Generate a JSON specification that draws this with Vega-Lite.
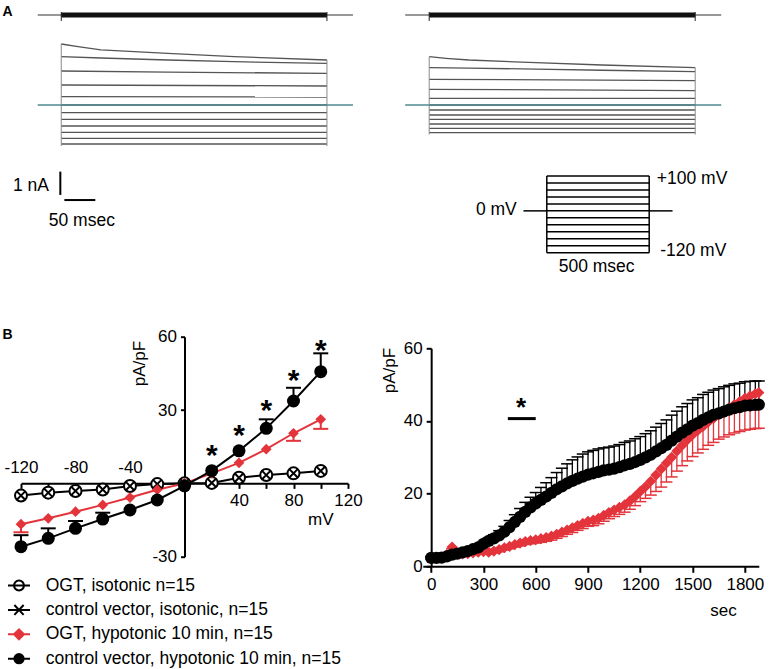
{
"$schema": "https://vega.github.io/schema/vega-lite/v6.json",
"padding": {"left": 2, "top": 0, "right": 0, "bottom": 0},
"spacing": 16.8,
"config": {
  "font": "Liberation Sans",
  "view": {"stroke": null},
  "axis": {"domainColor": "#000", "domainWidth": 2, "tickColor": "#000", "tickWidth": 2, "labelColor": "#000", "labelFontSize": 17, "titleFontSize": 17, "titleFontWeight": "normal", "titleColor": "#000", "grid": false}
},
"datasets": {
  "trL": [
    {"v":100,"x":0,"y":2.618},{"v":100,"x":27,"y":2.504},{"v":100,"x":64,"y":2.361},{"v":100,"x":172,"y":2.219},{"v":100,"x":279,"y":2.073},{"v":100,"x":429,"y":1.931},
    {"v":80,"x":0,"y":2.073},{"v":80,"x":64,"y":2.017},{"v":80,"x":172,"y":1.931},{"v":80,"x":279,"y":1.858},{"v":80,"x":429,"y":1.79},
    {"v":60,"x":0,"y":1.459},{"v":60,"x":172,"y":1.41},{"v":60,"x":429,"y":1.36},
    {"v":40,"x":0,"y":0.858},{"v":40,"x":429,"y":0.815},
    {"v":20,"x":0,"y":0.356},{"v":20,"x":429,"y":0.343},
    {"v":0,"x":0,"y":0},{"v":0,"x":429,"y":0},
    {"v":-20,"x":0,"y":-0.33},{"v":-20,"x":429,"y":-0.33},
    {"v":-40,"x":0,"y":-0.614},{"v":-40,"x":429,"y":-0.614},
    {"v":-60,"x":0,"y":-0.901},{"v":-60,"x":429,"y":-0.901},
    {"v":-80,"x":0,"y":-1.172},{"v":-80,"x":429,"y":-1.172},
    {"v":-100,"x":0,"y":-1.429},{"v":-100,"x":429,"y":-1.429},
    {"v":-120,"x":0,"y":-1.674},{"v":-120,"x":429,"y":-1.674}
  ],
  "trR": [
    {"v":100,"x":0,"y":2.073},{"v":100,"x":27,"y":2.004},{"v":100,"x":64,"y":1.931},{"v":100,"x":172,"y":1.815},{"v":100,"x":279,"y":1.717},{"v":100,"x":429.5,"y":1.601},
    {"v":80,"x":0,"y":1.601},{"v":80,"x":64,"y":1.58},{"v":80,"x":172,"y":1.54},{"v":80,"x":279,"y":1.49},{"v":80,"x":429.5,"y":1.429},
    {"v":60,"x":0,"y":1.103},{"v":60,"x":429.5,"y":1.043},
    {"v":40,"x":0,"y":0.674},{"v":40,"x":429.5,"y":0.614},
    {"v":20,"x":0,"y":0.288},{"v":20,"x":429.5,"y":0.288},
    {"v":0,"x":0,"y":0},{"v":0,"x":429.5,"y":0},
    {"v":-20,"x":0,"y":-0.215},{"v":-20,"x":429.5,"y":-0.215},
    {"v":-40,"x":0,"y":-0.429},{"v":-40,"x":429.5,"y":-0.429},
    {"v":-60,"x":0,"y":-0.614},{"v":-60,"x":429.5,"y":-0.614},
    {"v":-80,"x":0,"y":-0.815},{"v":-80,"x":429.5,"y":-0.815},
    {"v":-100,"x":0,"y":-1.0},{"v":-100,"x":429.5,"y":-1.0},
    {"v":-120,"x":0,"y":-1.189},{"v":-120,"x":429.5,"y":-1.189}
  ],
  "iv": [
    {"k":"oi","mv":-120,"val":-5.0,"cap":-5.0},{"k":"oi","mv":-100,"val":-3.8,"cap":-3.8},{"k":"oi","mv":-80,"val":-3.1,"cap":-3.1},{"k":"oi","mv":-60,"val":-2.5,"cap":-2.5},{"k":"oi","mv":-40,"val":-1.1,"cap":-1.1},{"k":"oi","mv":-20,"val":-0.3,"cap":-0.3},{"k":"oi","mv":0,"val":0,"cap":0},{"k":"oi","mv":20,"val":0.2,"cap":0.2},{"k":"oi","mv":40,"val":2.3,"cap":2.3},{"k":"oi","mv":60,"val":3.4,"cap":3.4},{"k":"oi","mv":80,"val":4.1,"cap":4.1},{"k":"oi","mv":100,"val":5.1,"cap":5.1},
    {"k":"ci","mv":-120,"val":-5.0,"cap":-5.0},{"k":"ci","mv":-100,"val":-3.8,"cap":-3.8},{"k":"ci","mv":-80,"val":-3.1,"cap":-3.1},{"k":"ci","mv":-60,"val":-2.5,"cap":-2.5},{"k":"ci","mv":-40,"val":-1.1,"cap":-1.1},{"k":"ci","mv":-20,"val":-0.3,"cap":-0.3},{"k":"ci","mv":0,"val":0,"cap":0},{"k":"ci","mv":20,"val":0.2,"cap":0.2},{"k":"ci","mv":40,"val":2.3,"cap":2.3},{"k":"ci","mv":60,"val":3.4,"cap":3.4},{"k":"ci","mv":80,"val":4.1,"cap":4.1},{"k":"ci","mv":100,"val":5.1,"cap":5.1},
    {"k":"oh","mv":-120,"val":-16.7,"cap":-20.0},{"k":"oh","mv":-100,"val":-14.3,"cap":-14.3},{"k":"oh","mv":-80,"val":-11.6,"cap":-11.6},{"k":"oh","mv":-60,"val":-8.8,"cap":-8.8},{"k":"oh","mv":-40,"val":-5.8,"cap":-5.8},{"k":"oh","mv":-20,"val":-2.6,"cap":-2.6},{"k":"oh","mv":0,"val":0,"cap":0},{"k":"oh","mv":20,"val":4.1,"cap":4.1},{"k":"oh","mv":40,"val":8.4,"cap":8.4},{"k":"oh","mv":60,"val":14.0,"cap":14.0},{"k":"oh","mv":80,"val":20.5,"cap":17.4},{"k":"oh","mv":100,"val":26.2,"cap":22.3},
    {"k":"ch","mv":-120,"val":-25.9,"cap":-21.2},{"k":"ch","mv":-100,"val":-22.5,"cap":-18.4},{"k":"ch","mv":-80,"val":-18.4,"cap":-15.4},{"k":"ch","mv":-60,"val":-14.6,"cap":-12.0},{"k":"ch","mv":-40,"val":-10.9,"cap":-10.9},{"k":"ch","mv":-20,"val":-6.8,"cap":-6.8},{"k":"ch","mv":0,"val":-1.0,"cap":-1.0},{"k":"ch","mv":20,"val":5.2,"cap":5.2},{"k":"ch","mv":40,"val":13.3,"cap":13.3},{"k":"ch","mv":60,"val":22.5,"cap":26.2},{"k":"ch","mv":80,"val":33.7,"cap":39.1},{"k":"ch","mv":100,"val":45.7,"cap":53.2}
  ],
  "tc": [
    {"s":"c","t":0,"v":2.3,"e":2.6},{"s":"c","t":30,"v":2.3,"e":2.6},{"s":"c","t":60,"v":2.4,"e":2.7},{"s":"c","t":90,"v":2.7,"e":3.0},{"s":"c","t":120,"v":3.2,"e":3.6},{"s":"c","t":150,"v":3.5,"e":3.9},{"s":"c","t":180,"v":3.8,"e":4.2},{"s":"c","t":210,"v":4.2,"e":4.7},{"s":"c","t":240,"v":4.7,"e":5.2},{"s":"c","t":270,"v":5.2,"e":5.7},
    {"s":"c","t":300,"v":6.2,"e":6.8},{"s":"c","t":330,"v":7.0,"e":7.8},{"s":"c","t":360,"v":7.7,"e":8.7},{"s":"c","t":390,"v":8.5,"e":9.8},{"s":"c","t":420,"v":9.5,"e":11.0},{"s":"c","t":450,"v":10.8,"e":12.6},{"s":"c","t":480,"v":12.2,"e":14.2},{"s":"c","t":510,"v":13.6,"e":15.9},{"s":"c","t":540,"v":15.0,"e":17.6},{"s":"c","t":570,"v":16.2,"e":19.0},
    {"s":"c","t":600,"v":17.3,"e":20.3},{"s":"c","t":630,"v":18.3,"e":21.7},{"s":"c","t":660,"v":19.2,"e":23.0},{"s":"c","t":690,"v":20.2,"e":24.4},{"s":"c","t":720,"v":21.2,"e":25.8},{"s":"c","t":750,"v":22.0,"e":27.0},{"s":"c","t":780,"v":22.8,"e":28.2},{"s":"c","t":810,"v":23.5,"e":29.3},{"s":"c","t":840,"v":24.1,"e":30.1},{"s":"c","t":870,"v":24.7,"e":30.9},
    {"s":"c","t":900,"v":25.2,"e":31.5},{"s":"c","t":930,"v":25.6,"e":31.9},{"s":"c","t":960,"v":26.0,"e":32.3},{"s":"c","t":990,"v":26.4,"e":32.6},{"s":"c","t":1020,"v":26.6,"e":32.8},{"s":"c","t":1050,"v":26.9,"e":33.1},{"s":"c","t":1080,"v":27.3,"e":33.5},{"s":"c","t":1110,"v":27.8,"e":34.1},{"s":"c","t":1140,"v":28.2,"e":34.5},{"s":"c","t":1170,"v":28.7,"e":35.1},
    {"s":"c","t":1200,"v":29.3,"e":35.7},{"s":"c","t":1230,"v":30.0,"e":36.5},{"s":"c","t":1260,"v":30.7,"e":37.3},{"s":"c","t":1290,"v":31.6,"e":38.3},{"s":"c","t":1320,"v":32.5,"e":39.3},{"s":"c","t":1350,"v":33.4,"e":40.3},{"s":"c","t":1380,"v":34.6,"e":41.6},{"s":"c","t":1410,"v":35.7,"e":42.7},{"s":"c","t":1440,"v":36.8,"e":43.9},{"s":"c","t":1470,"v":37.7,"e":44.8},
    {"s":"c","t":1500,"v":38.7,"e":45.8},{"s":"c","t":1530,"v":39.4,"e":46.4},{"s":"c","t":1560,"v":40.3,"e":47.3},{"s":"c","t":1590,"v":41.0,"e":47.9},{"s":"c","t":1620,"v":41.7,"e":48.5},{"s":"c","t":1650,"v":42.1,"e":48.9},{"s":"c","t":1680,"v":42.6,"e":49.4},{"s":"c","t":1710,"v":43.1,"e":49.8},{"s":"c","t":1740,"v":43.5,"e":50.2},{"s":"c","t":1770,"v":43.8,"e":50.4},
    {"s":"c","t":1800,"v":44.2,"e":50.8},{"s":"c","t":1830,"v":44.3,"e":50.9},{"s":"c","t":1860,"v":44.4,"e":51.0},{"s":"c","t":1880,"v":44.5,"e":51.0},
    {"s":"o","t":0,"v":2.3,"e":2.0},{"s":"o","t":30,"v":2.3,"e":2.0},{"s":"o","t":60,"v":2.5,"e":2.2},{"s":"o","t":90,"v":3.2,"e":2.8},{"s":"o","t":120,"v":5.3,"e":4.8},{"s":"o","t":150,"v":3.6,"e":3.2},{"s":"o","t":180,"v":3.4,"e":3.0},{"s":"o","t":210,"v":3.5,"e":3.1},{"s":"o","t":240,"v":3.7,"e":3.3},{"s":"o","t":270,"v":3.9,"e":3.5},
    {"s":"o","t":300,"v":4.0,"e":3.5},{"s":"o","t":330,"v":3.9,"e":3.4},{"s":"o","t":360,"v":4.2,"e":3.7},{"s":"o","t":390,"v":4.6,"e":4.0},{"s":"o","t":420,"v":5.1,"e":4.5},{"s":"o","t":450,"v":5.5,"e":4.8},{"s":"o","t":480,"v":6.0,"e":5.3},{"s":"o","t":510,"v":6.4,"e":5.6},{"s":"o","t":540,"v":6.8,"e":6.0},{"s":"o","t":570,"v":7.1,"e":6.2},
    {"s":"o","t":600,"v":7.3,"e":6.4},{"s":"o","t":630,"v":7.6,"e":6.6},{"s":"o","t":660,"v":7.9,"e":6.9},{"s":"o","t":690,"v":8.3,"e":7.2},{"s":"o","t":720,"v":8.8,"e":7.7},{"s":"o","t":750,"v":9.4,"e":8.2},{"s":"o","t":780,"v":10.0,"e":8.8},{"s":"o","t":810,"v":10.6,"e":9.3},{"s":"o","t":840,"v":11.2,"e":9.9},{"s":"o","t":870,"v":11.8,"e":10.4},
    {"s":"o","t":900,"v":12.4,"e":11.0},{"s":"o","t":930,"v":12.7,"e":11.2},{"s":"o","t":960,"v":13.2,"e":11.7},{"s":"o","t":990,"v":14.0,"e":12.4},{"s":"o","t":1020,"v":14.8,"e":13.1},{"s":"o","t":1050,"v":15.5,"e":13.7},{"s":"o","t":1080,"v":16.2,"e":14.3},{"s":"o","t":1110,"v":16.9,"e":14.9},{"s":"o","t":1140,"v":18.0,"e":15.7},{"s":"o","t":1170,"v":19.2,"e":16.7},
    {"s":"o","t":1200,"v":20.6,"e":17.8},{"s":"o","t":1230,"v":21.9,"e":18.7},{"s":"o","t":1260,"v":23.4,"e":19.6},{"s":"o","t":1290,"v":25.1,"e":20.6},{"s":"o","t":1320,"v":26.8,"e":21.8},{"s":"o","t":1350,"v":28.4,"e":23.2},{"s":"o","t":1380,"v":30.0,"e":24.6},{"s":"o","t":1410,"v":31.7,"e":26.2},{"s":"o","t":1440,"v":33.3,"e":27.7},{"s":"o","t":1470,"v":34.8,"e":29.0},
    {"s":"o","t":1500,"v":36.2,"e":30.2},{"s":"o","t":1530,"v":37.4,"e":31.2},{"s":"o","t":1560,"v":38.5,"e":32.2},{"s":"o","t":1590,"v":39.7,"e":33.3},{"s":"o","t":1620,"v":40.7,"e":34.1},{"s":"o","t":1650,"v":41.8,"e":35.0},{"s":"o","t":1680,"v":42.7,"e":35.6},{"s":"o","t":1710,"v":43.6,"e":36.2},{"s":"o","t":1740,"v":44.5,"e":36.7},{"s":"o","t":1770,"v":45.3,"e":37.1},
    {"s":"o","t":1800,"v":46.2,"e":37.5},{"s":"o","t":1830,"v":46.9,"e":37.7},{"s":"o","t":1860,"v":47.5,"e":37.9},{"s":"o","t":1880,"v":47.8,"e":38.0}
  ]
},
"hconcat": [
  {"bounds": "flush", "spacing": 36.7, "vconcat": [
    {"width": 327, "height": 300,
     "encoding": {
       "x": {"field": "x", "type": "quantitative", "scale": {"domain": [-65, 463], "nice": false, "zero": false}, "axis": null},
       "y": {"field": "y", "type": "quantitative", "scale": {"domain": [-8.37, 4.506], "nice": false, "zero": false}, "axis": null}
     },
     "layer": [
       {"data": {"name": "trL"}, "mark": {"type": "line", "color": "#555555", "strokeWidth": 1.3}, "encoding": {"detail": {"field": "v", "type": "nominal"}}},
       {"data": {"values": [{"x": 0, "y": 2.618, "y2": -1.76}, {"x": 429, "y": 1.931, "y2": -1.76}]}, "mark": {"type": "rule", "color": "#8a8a8a", "strokeWidth": 1}, "encoding": {"y2": {"field": "y2"}}},
       {"data": {"values": [{"x": -38, "x2": 471, "y": 0}]}, "mark": {"type": "rule", "color": "#4d8a90", "strokeWidth": 1.5}, "encoding": {"x2": {"field": "x2"}}},
       {"data": {"values": [{"x": -38, "x2": 471, "y": 3.863}]}, "mark": {"type": "rule", "color": "#333333", "strokeWidth": 1.2}, "encoding": {"x2": {"field": "x2"}}},
       {"data": {"values": [{"x": 0, "x2": 429, "y": 3.863}]}, "mark": {"type": "rule", "color": "#111111", "strokeWidth": 5}, "encoding": {"x2": {"field": "x2"}}},
       {"data": {"values": [{"x": 0, "y": 3.99, "y2": 3.605}, {"x": 429, "y": 3.99, "y2": 3.605}]}, "mark": {"type": "rule", "color": "#222222", "strokeWidth": 1}, "encoding": {"y2": {"field": "y2"}}},
       {"data": {"values": [{"x": -1.5, "x2": -1.5, "y": -2.86, "y2": -3.86}, {"x": 5, "x2": 55, "y": -4.08, "y2": -4.08}]}, "mark": {"type": "rule", "color": "#000", "strokeWidth": 2}, "encoding": {"x2": {"field": "x2"}, "y2": {"field": "y2"}}},
       {"data": {"values": [{"x": -19.8, "y": -3.476, "txt": "1 nA"}]}, "mark": {"type": "text", "align": "right", "baseline": "middle", "fontSize": 17.5, "color": "#000"}, "encoding": {"text": {"field": "txt"}}},
       {"data": {"values": [{"x": 33.2, "y": -5.0, "txt": "50 msec"}]}, "mark": {"type": "text", "align": "center", "baseline": "middle", "fontSize": 17.5, "color": "#000"}, "encoding": {"text": {"field": "txt"}}},
       {"data": {"values": [{"x": -86.5, "y": 4.004, "txt": "A"}]}, "mark": {"type": "text", "align": "center", "baseline": "middle", "fontSize": 14, "fontWeight": "bold", "color": "#000"}, "encoding": {"text": {"field": "txt"}}}
     ]
    },
    {"width": 327, "height": 220,
     "resolve": {"axis": {"x": "independent", "y": "independent"}},
     "encoding": {
       "x": {"field": "mv", "type": "quantitative", "scale": {"domain": [-120, 120], "nice": false, "zero": false}, "axis": null},
       "y": {"field": "val", "type": "quantitative", "scale": {"domain": [-30, 60], "nice": false, "zero": false}, "axis": null}
     },
     "layer": [
       {"data": {"name": "iv"}, "transform": [{"filter": "datum.k == 'ci'"}], "mark": {"type": "line", "color": "#000", "strokeWidth": 2},
        "encoding": {"x": {"field": "mv", "type": "quantitative", "scale": {"domain": [-120, 120], "nice": false, "zero": false},
          "axis": {"orient": "top", "offset": -146.67, "values": [-120, -80, -40], "labelExpr": "replace(datum.label, '\u2212', '-')", "ticks": false, "tickSize": 0, "domain": false, "labelPadding": 7, "labelFlush": false, "labelOverlap": false, "title": null}}}},
       {"data": {"name": "iv"}, "transform": [{"filter": "datum.k == 'oh'"}], "mark": {"type": "line", "color": "#e3343c", "strokeWidth": 2},
        "encoding": {"y": {"field": "val", "type": "quantitative", "scale": {"domain": [-30, 60], "nice": false, "zero": false},
          "axis": {"orient": "left", "offset": -163.5, "values": [-30, 30, 60], "labelExpr": "replace(datum.label, '\u2212', '-')", "tickSize": 4, "labelPadding": 4, "title": "pA/pF", "titleX": -45.2, "titleY": 26.3, "titleAngle": 270, "titleBaseline": "middle", "titleAlign": "center"}}}},
       {"data": {"name": "iv"}, "transform": [{"filter": "datum.k == 'ch'"}], "mark": {"type": "line", "color": "#000", "strokeWidth": 2},
        "encoding": {"x": {"field": "mv", "type": "quantitative", "scale": {"domain": [-120, 120], "nice": false, "zero": false},
          "axis": {"orient": "bottom", "offset": -73.33, "values": [-120, -100, -80, -60, -40, -20, 0, 20, 40, 60, 80, 100, 120], "labelExpr": "datum.value > 0 && datum.value % 40 == 0 ? datum.label : ''", "labelFlush": false, "labelOverlap": false, "tickSize": 5, "labelPadding": 4, "title": "mV", "titleX": 299.3, "titleY": 35.7, "titleBaseline": "middle", "titleAlign": "center"}}}},
       {"data": {"name": "iv"}, "transform": [{"filter": "datum.k == 'ch' && datum.cap != datum.val"}], "mark": {"type": "rule", "color": "#000", "strokeWidth": 2}, "encoding": {"y2": {"field": "cap"}}},
       {"data": {"name": "iv"}, "transform": [{"filter": "datum.k == 'ch' && datum.cap != datum.val"}], "mark": {"type": "point", "shape": "M-1,0L1,0", "size": 225, "filled": false, "color": "#000", "strokeWidth": 2, "opacity": 1},
        "encoding": {"y": {"field": "cap", "type": "quantitative", "scale": {"domain": [-30, 60], "nice": false, "zero": false}, "axis": null}}},
       {"data": {"name": "iv"}, "transform": [{"filter": "datum.k == 'oh' && datum.cap != datum.val"}], "mark": {"type": "rule", "color": "#e3343c", "strokeWidth": 2}, "encoding": {"y2": {"field": "cap"}}},
       {"data": {"name": "iv"}, "transform": [{"filter": "datum.k == 'oh' && datum.cap != datum.val"}], "mark": {"type": "point", "shape": "M-1,0L1,0", "size": 225, "filled": false, "color": "#e3343c", "strokeWidth": 2, "opacity": 1},
        "encoding": {"y": {"field": "cap", "type": "quantitative", "scale": {"domain": [-30, 60], "nice": false, "zero": false}, "axis": null}}},
       {"data": {"name": "iv"}, "transform": [{"filter": "datum.k == 'oi'"}], "mark": {"type": "point", "shape": "circle", "size": 144, "filled": true, "fill": "#fff", "stroke": "#000", "strokeWidth": 2, "opacity": 1}},
       {"data": {"name": "iv"}, "transform": [{"filter": "datum.k == 'ci'"}], "mark": {"type": "point", "shape": "M-0.7,-0.7L0.7,0.7M-0.7,0.7L0.7,-0.7", "size": 144, "filled": false, "color": "#000", "stroke": "#000", "strokeWidth": 2, "opacity": 1}},
       {"data": {"name": "iv"}, "transform": [{"filter": "datum.k == 'oh'"}], "mark": {"type": "point", "shape": "diamond", "size": 115, "filled": true, "color": "#e3343c", "opacity": 1}},
       {"data": {"name": "iv"}, "transform": [{"filter": "datum.k == 'ch'"}], "mark": {"type": "point", "shape": "circle", "size": 169, "filled": true, "color": "#000", "opacity": 1}},
       {"data": {"values": [{"mv": 20, "val": 14.3}, {"mv": 40, "val": 22.5}, {"mv": 60, "val": 32.7}, {"mv": 80, "val": 45.3}, {"mv": 100, "val": 57.5}]},
        "mark": {"type": "text", "text": "*", "fontSize": 30, "fontWeight": "bold", "align": "center", "baseline": "middle", "dy": 8, "color": "#000"}},
       {"data": {"values": [{"mv": -129.8, "val": 60.7, "txt": "B"}]}, "mark": {"type": "text", "align": "center", "baseline": "middle", "fontSize": 14, "fontWeight": "bold", "color": "#000"}, "encoding": {"text": {"field": "txt"}}},
       {"data": {"name": "iv"}, "mark": {"type": "point", "opacity": 0, "strokeWidth": 2},
        "encoding": {
          "shape": {"field": "k", "type": "nominal", "scale": {"domain": ["oi", "ci", "oh", "ch"], "range": ["M-1,0L1,0M0.45,0A0.45,0.45 0 1,1 -0.45,0A0.45,0.45 0 1,1 0.45,0", "M-1,0L1,0M-0.42,-0.45L0.42,0.45M-0.42,0.45L0.42,-0.45", "M-1,0L1,0M0,-0.45L0.45,0L0,0.45L-0.45,0Z", "M-1,0L1,0M0.42,0A0.42,0.42 0 1,1 -0.42,0A0.42,0.42 0 1,1 0.42,0Z"]},
            "legend": {"orient": "none", "legendX": -14, "legendY": 573.5, "title": null, "direction": "vertical", "symbolSize": 484, "symbolStrokeWidth": 2, "symbolOpacity": 1, "labelFontSize": 17.5, "labelOffset": 14.7, "rowPadding": 3.4, "labelLimit": 400, "padding": 0, "labelColor": "#000",
              "labelExpr": "datum.label == 'oi' ? 'OGT, isotonic n=15' : datum.label == 'ci' ? 'control vector, isotonic, n=15' : datum.label == 'oh' ? 'OGT, hypotonic 10 min, n=15' : 'control vector, hypotonic 10 min, n=15'"}},
          "stroke": {"field": "k", "type": "nominal", "scale": {"domain": ["oi", "ci", "oh", "ch"], "range": ["#000", "#000", "#e3343c", "#000"]},
            "legend": {"orient": "none", "legendX": -14, "legendY": 573.5, "title": null, "direction": "vertical", "symbolSize": 484, "symbolStrokeWidth": 2, "symbolOpacity": 1, "labelFontSize": 17.5, "labelOffset": 14.7, "rowPadding": 3.4, "labelLimit": 400, "padding": 0, "labelColor": "#000",
              "labelExpr": "datum.label == 'oi' ? 'OGT, isotonic n=15' : datum.label == 'ci' ? 'control vector, isotonic, n=15' : datum.label == 'oh' ? 'OGT, hypotonic 10 min, n=15' : 'control vector, hypotonic 10 min, n=15'"}},
          "fill": {"field": "k", "type": "nominal", "scale": {"domain": ["oi", "ci", "oh", "ch"], "range": ["#ffffff", "transparent", "#e3343c", "#000"]},
            "legend": {"orient": "none", "legendX": -14, "legendY": 573.5, "title": null, "direction": "vertical", "symbolSize": 484, "symbolStrokeWidth": 2, "symbolOpacity": 1, "labelFontSize": 17.5, "labelOffset": 14.7, "rowPadding": 3.4, "labelLimit": 400, "padding": 0, "labelColor": "#000",
              "labelExpr": "datum.label == 'oi' ? 'OGT, isotonic n=15' : datum.label == 'ci' ? 'control vector, isotonic, n=15' : datum.label == 'oh' ? 'OGT, hypotonic 10 min, n=15' : 'control vector, hypotonic 10 min, n=15'"}}
        }}
     ]
    }
  ]},
  {"bounds": "flush", "spacing": 48.3, "vconcat": [
    {"width": 336, "height": 300,
     "resolve": {"scale": {"x": "independent", "y": "independent"}},
     "layer": [
       {"encoding": {
          "x": {"field": "x", "type": "quantitative", "scale": {"domain": [-10.33, 532.2], "nice": false, "zero": false}, "axis": null},
          "y": {"field": "y", "type": "quantitative", "scale": {"domain": [-8.37, 4.506], "nice": false, "zero": false}, "axis": null}
        },
        "layer": [
          {"data": {"name": "trR"}, "mark": {"type": "line", "color": "#555555", "strokeWidth": 1.3}, "encoding": {"detail": {"field": "v", "type": "nominal"}}},
          {"data": {"values": [{"x": 0, "y": 2.073, "y2": -1.27}, {"x": 429.5, "y": 1.601, "y2": -1.27}]}, "mark": {"type": "rule", "color": "#8a8a8a", "strokeWidth": 1}, "encoding": {"y2": {"field": "y2"}}},
          {"data": {"values": [{"x": -38.75, "x2": 471.5, "y": 0}]}, "mark": {"type": "rule", "color": "#4d8a90", "strokeWidth": 1.5}, "encoding": {"x2": {"field": "x2"}}},
          {"data": {"values": [{"x": -38.75, "x2": 471.5, "y": 3.863}]}, "mark": {"type": "rule", "color": "#333333", "strokeWidth": 1.2}, "encoding": {"x2": {"field": "x2"}}},
          {"data": {"values": [{"x": 0, "x2": 429.5, "y": 3.863}]}, "mark": {"type": "rule", "color": "#111111", "strokeWidth": 5}, "encoding": {"x2": {"field": "x2"}}},
          {"data": {"values": [{"x": 0, "y": 3.99, "y2": 3.605}, {"x": 429.5, "y": 3.99, "y2": 3.605}]}, "mark": {"type": "rule", "color": "#222222", "strokeWidth": 1}, "encoding": {"y2": {"field": "y2"}}}
        ]},
       {"encoding": {
          "x": {"field": "x", "type": "quantitative", "scale": {"domain": [-605.5, 1035.2], "nice": false, "zero": false}, "axis": null},
          "y": {"field": "y", "type": "quantitative", "scale": {"domain": [-255.7, 604.9], "nice": false, "zero": false}, "axis": null}
        },
        "layer": [
          {"data": {"values": [{"x": 0, "x2": 500, "y": -120}, {"x": 0, "x2": 500, "y": -100}, {"x": 0, "x2": 500, "y": -80}, {"x": 0, "x2": 500, "y": -60}, {"x": 0, "x2": 500, "y": -40}, {"x": 0, "x2": 500, "y": -20}, {"x": 0, "x2": 500, "y": 0}, {"x": 0, "x2": 500, "y": 20}, {"x": 0, "x2": 500, "y": 40}, {"x": 0, "x2": 500, "y": 60}, {"x": 0, "x2": 500, "y": 80}, {"x": 0, "x2": 500, "y": 100}, {"x": -114, "x2": 0, "y": 0}, {"x": 500, "x2": 614, "y": 0}]},
           "mark": {"type": "rule", "color": "#000", "strokeWidth": 1.5}, "encoding": {"x2": {"field": "x2"}}},
          {"data": {"values": [{"x": 0, "y": -120, "y2": 100}, {"x": 500, "y": -120, "y2": 100}]}, "mark": {"type": "rule", "color": "#000", "strokeWidth": 1.5}, "encoding": {"y2": {"field": "y2"}}},
          {"data": {"values": [{"x": -146.5, "y": 2, "txt": "0 mV"}]}, "mark": {"type": "text", "align": "right", "baseline": "middle", "fontSize": 17.5, "color": "#000"}, "encoding": {"text": {"field": "txt"}}},
          {"data": {"values": [{"x": 537.1, "y": 91.4, "txt": "+100 mV"}, {"x": 553.7, "y": -116, "txt": "-120 mV"}]}, "mark": {"type": "text", "align": "left", "baseline": "middle", "fontSize": 17.5, "color": "#000"}, "encoding": {"text": {"field": "txt"}}},
          {"data": {"values": [{"x": 243.2, "y": -162.4, "txt": "500 msec"}]}, "mark": {"type": "text", "align": "center", "baseline": "middle", "fontSize": 17.5, "color": "#000"}, "encoding": {"text": {"field": "txt"}}}
        ]}
     ]
    },
    {"width": 336, "height": 218,
     "resolve": {"axis": {"y": "independent"}},
     "encoding": {
       "x": {"field": "t", "type": "quantitative", "scale": {"domain": [-48, 1880], "nice": false, "zero": false},
             "axis": {"values": [0, 300, 600, 900, 1200, 1500, 1800], "format": "d", "labelFlush": false, "labelOverlap": false, "tickSize": 6, "labelPadding": 4, "title": "sec", "titleX": 300.2, "titleY": 43.7, "titleBaseline": "middle", "titleAlign": "center"}},
       "y": {"field": "v", "type": "quantitative", "scale": {"domain": [0, 60], "nice": false, "zero": false}, "axis": null}
     },
     "layer": [
       {"data": {"name": "tc"}, "transform": [{"filter": "datum.s == 'c'"}], "mark": {"type": "rule", "color": "#000", "strokeWidth": 1.3}, "encoding": {"y2": {"field": "e"}}},
       {"data": {"name": "tc"}, "transform": [{"filter": "datum.s == 'c'"}], "mark": {"type": "point", "shape": "M-1,0L1,0", "size": 144, "filled": false, "color": "#000", "strokeWidth": 1.5, "opacity": 1},
        "encoding": {"y": {"field": "e", "type": "quantitative", "scale": {"domain": [0, 60], "nice": false, "zero": false}, "axis": null}}},
       {"data": {"name": "tc"}, "transform": [{"filter": "datum.s == 'o'"}], "mark": {"type": "rule", "color": "#e3343c", "strokeWidth": 1.3}, "encoding": {"y2": {"field": "e"}}},
       {"data": {"name": "tc"}, "transform": [{"filter": "datum.s == 'o'"}], "mark": {"type": "point", "shape": "M-1,0L1,0", "size": 144, "filled": false, "color": "#e3343c", "strokeWidth": 1.5, "opacity": 1},
        "encoding": {"y": {"field": "e", "type": "quantitative", "scale": {"domain": [0, 60], "nice": false, "zero": false}, "axis": null}}},
       {"data": {"name": "tc"}, "transform": [{"filter": "datum.s == 'o'"}], "mark": {"type": "point", "shape": "diamond", "size": 125, "filled": true, "color": "#e3343c", "opacity": 1}},
       {"data": {"name": "tc"}, "transform": [{"filter": "datum.s == 'c'"}], "mark": {"type": "point", "shape": "circle", "size": 150, "filled": true, "color": "#000", "opacity": 1},
        "encoding": {"y": {"field": "v", "type": "quantitative", "scale": {"domain": [0, 60], "nice": false, "zero": false},
             "axis": {"values": [0, 20, 40, 60], "offset": -8.37, "tickSize": 5, "labelPadding": 4, "title": "pA/pF", "titleX": -41.7, "titleY": 21.7, "titleAngle": 270, "titleBaseline": "middle", "titleAlign": "center"}}}},
       {"data": {"values": [{"t": 440, "t2": 600, "v": 40.65}]}, "mark": {"type": "rule", "color": "#000", "strokeWidth": 3}, "encoding": {"x2": {"field": "t2"}}},
       {"data": {"values": [{"t": 516, "v": 45.4}]}, "mark": {"type": "text", "text": "*", "fontSize": 26, "fontWeight": "bold", "align": "center", "baseline": "middle", "dy": 7, "color": "#000"}}
     ]
    }
  ]}
]
}
